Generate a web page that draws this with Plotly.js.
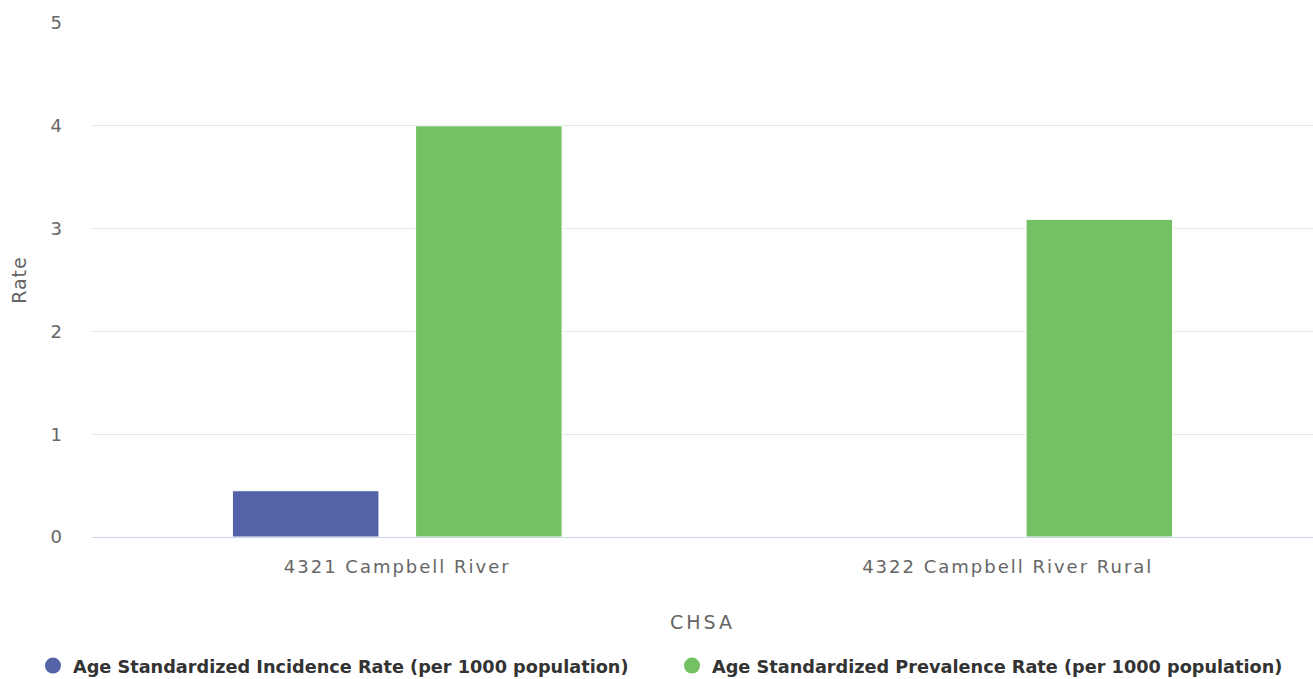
<!DOCTYPE html>
<html>
<head>
<meta charset="utf-8">
<script src="https://cdn.plot.ly/plotly-3.0.1.min.js"></script>
<style>
html,body{margin:0;padding:0;background:#fff;}
#chart{width:1313px;height:679px;}
#chart .xtick text{letter-spacing:2px;}
#chart .g-xtitle text{letter-spacing:3px;}
#chart .g-ytitle text{letter-spacing:1px;}
</style>
</head>
<body>
<div id="chart"></div>
<script>
const categories = ["4321 Campbell River", "4322 Campbell River Rural"];
const incidenceName = "Age Standardized Incidence Rate (per 1000 population)";
const prevalenceName = "Age Standardized Prevalence Rate (per 1000 population)";
const incidence = [0.45, null];
const prevalence = [4.0, 3.09];
const yTicks = [0, 1, 2, 3, 4, 5];

const blue = "#5463a8";
const green = "#73c163";
const font = "DejaVu Sans, Verdana, sans-serif";

const traces = [
  {type: "bar", x: categories, y: incidence, name: incidenceName, showlegend: false,
   marker: {color: blue, line: {color: "#ffffff", width: 1}}},
  {type: "bar", x: categories, y: prevalence, name: prevalenceName, showlegend: false,
   marker: {color: green, line: {color: "#ffffff", width: 1}}},
  {type: "scatter", mode: "markers", x: categories, y: [null, null], name: incidenceName,
   legend: "legend", marker: {color: blue, size: 18, symbol: "circle"}, hoverinfo: "skip"},
  {type: "scatter", mode: "markers", x: categories, y: [null, null], name: prevalenceName,
   legend: "legend2", marker: {color: green, size: 18, symbol: "circle"}, hoverinfo: "skip"}
];

const legendFont = {family: font, size: 17.7, color: "#333333", weight: "bold"};

const layout = {
  width: 1313, height: 679,
  margin: {l: 92, r: 0, t: 23, b: 142},
  paper_bgcolor: "#ffffff", plot_bgcolor: "#ffffff",
  font: {family: font, color: "#666666"},
  barmode: "group",
  bargap: 0.40,
  bargroupgap: 0.20,
  xaxis: {
    type: "category",
    showgrid: false,
    showline: true, linecolor: "#ccd6eb", linewidth: 1,
    ticks: "", ticklabelstandoff: 13,
    tickfont: {family: font, size: 18, color: "#666666"},
    title: {text: "CHSA", font: {family: font, size: 19, color: "#666666"}, standoff: 40},
    zeroline: false, fixedrange: true
  },
  yaxis: {
    range: [0, 5],
    tickvals: yTicks,
    ticktext: yTicks.map(String),
    showgrid: true, gridcolor: "#e6e6e6", gridwidth: 1,
    zeroline: false, showline: false, ticks: "",
    ticklabelstandoff: 29,
    tickfont: {family: font, size: 18, color: "#666666"},
    title: {text: "Rate", font: {family: font, size: 19, color: "#666666"}, standoff: 18},
    fixedrange: true
  },
  showlegend: true,
  legend: {
    orientation: "h", xref: "container", yref: "container",
    x: 0.0251, xanchor: "left", y: 0.019, yanchor: "middle",
    font: legendFont, bgcolor: "rgba(0,0,0,0)"
  },
  legend2: {
    orientation: "h", xref: "container", yref: "container",
    x: 0.5118, xanchor: "left", y: 0.019, yanchor: "middle",
    font: legendFont, bgcolor: "rgba(0,0,0,0)"
  }
};

Plotly.newPlot("chart", traces, layout, {displayModeBar: false, staticPlot: true});
</script>
</body>
</html>
